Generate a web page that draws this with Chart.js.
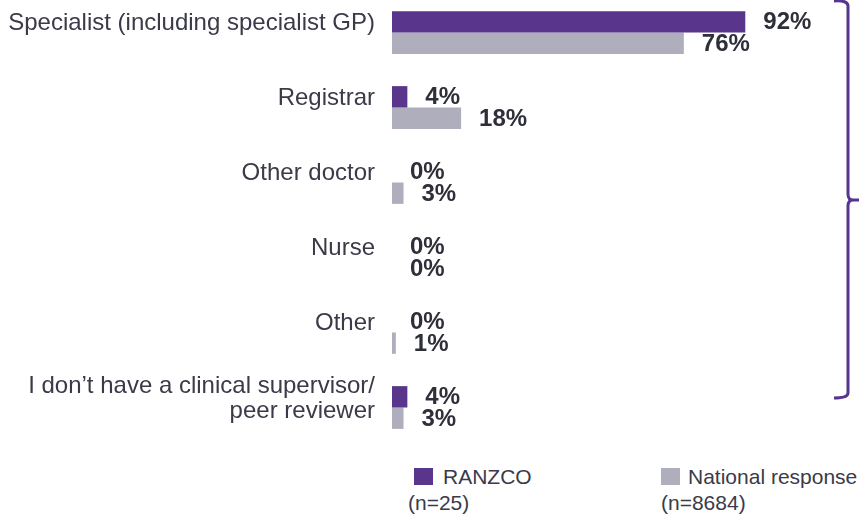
<!DOCTYPE html>
<html>
<head>
<meta charset="utf-8">
<script src="https://cdn.jsdelivr.net/npm/chart.js@4"></script>
<style>
  html, body { margin: 0; padding: 0; background: #fff; }
  body { width: 859px; height: 520px; position: relative; overflow: hidden; font-family: "Liberation Sans", Arial, sans-serif; }
  #wrap { position: absolute; left: 0; top: -6px; width: 859px; height: 451px; }
  .leg { position: absolute; font-size: 21px; color: #3A3A48; line-height: 25px; }
  .sw { position: absolute; width: 19px; height: 17px; }
</style>
</head>
<body>
<div id="wrap"><canvas id="c" width="859" height="451"></canvas></div>
<div class="sw" style="left:414px;top:468px;background:#59358C"></div>
<div class="leg" style="left:443px;top:464px">RANZCO</div>
<div class="leg" style="left:408px;top:490px">(n=25)</div>
<div class="sw" style="left:661px;top:468px;background:#AFAEBC"></div>
<div class="leg" style="left:688px;top:464px">National response</div>
<div class="leg" style="left:661px;top:490px">(n=8684)</div>
<script>
const categories = [
  "Specialist (including specialist GP)",
  "Registrar",
  "Other doctor",
  "Nurse",
  "Other",
  ["I don\u2019t have a clinical supervisor/", "peer reviewer"]
];
const ranzco = [92, 4, 0, 0, 0, 4];
const national = [76, 18, 3, 0, 1, 3];
const seriesNames = ["RANZCO", "National response"];

const valueLabels = {
  id: 'valueLabels',
  afterDatasetsDraw(chart) {
    const ctx = chart.ctx;
    ctx.save();
    ctx.font = 'bold 24px "Liberation Sans", Arial, sans-serif';
    ctx.fillStyle = '#2F2F3A';
    ctx.textAlign = 'left';
    ctx.textBaseline = 'middle';
    chart.data.datasets.forEach((ds, i) => {
      chart.getDatasetMeta(i).data.forEach((bar, j) => {
        ctx.fillText(ds.data[j] + '%', bar.x + 18, bar.y + 1);
      });
    });
    ctx.restore();
  }
};

const bracket = {
  id: 'bracket',
  afterDraw(chart) {
    const ctx = chart.ctx;
    const off = 6; // canvas top offset
    ctx.save();
    ctx.strokeStyle = '#56358E';
    ctx.lineWidth = 3;
    ctx.lineJoin = 'round';
    ctx.lineCap = 'butt';
    ctx.beginPath();
    ctx.moveTo(834, 1 + off);
    ctx.quadraticCurveTo(848, 0 + off, 848, 6 + off);
    ctx.lineTo(848, 194 + off);
    ctx.quadraticCurveTo(848, 200 + off, 853, 200 + off);
    ctx.lineTo(859, 200 + off);
    ctx.moveTo(853, 200 + off);
    ctx.quadraticCurveTo(848, 200 + off, 848, 206 + off);
    ctx.lineTo(848, 393 + off);
    ctx.quadraticCurveTo(848, 398 + off, 834, 398 + off);
    ctx.stroke();
    ctx.restore();
  }
};

new Chart(document.getElementById('c'), {
  type: 'bar',
  data: {
    labels: categories,
    datasets: [
      { label: seriesNames[0], data: ranzco, backgroundColor: '#59358C', categoryPercentage: 0.57, barPercentage: 1 },
      { label: seriesNames[1], data: national, backgroundColor: '#AFAEBC', categoryPercentage: 0.57, barPercentage: 1 }
    ]
  },
  options: {
    indexAxis: 'y',
    responsive: false,
    animation: false,
    layout: { padding: { top: 1, bottom: 0, left: 0, right: 83 } },
    plugins: { legend: { display: false }, tooltip: { enabled: false } },
    scales: {
      x: { display: false, min: 0, max: 100 },
      y: {
        afterFit(s) { s.width = 392; s.paddingTop = 0; s.paddingBottom = 0; },
        grid: { display: false, drawTicks: false },
        border: { display: false },
        ticks: {
          padding: 17,
          labelOffset: -9,
          color: '#3A3A48',
          font: { family: '"Liberation Sans", Arial, sans-serif', size: 24, lineHeight: 1.05 }
        }
      }
    }
  },
  plugins: [valueLabels, bracket]
});
</script>
</body>
</html>
